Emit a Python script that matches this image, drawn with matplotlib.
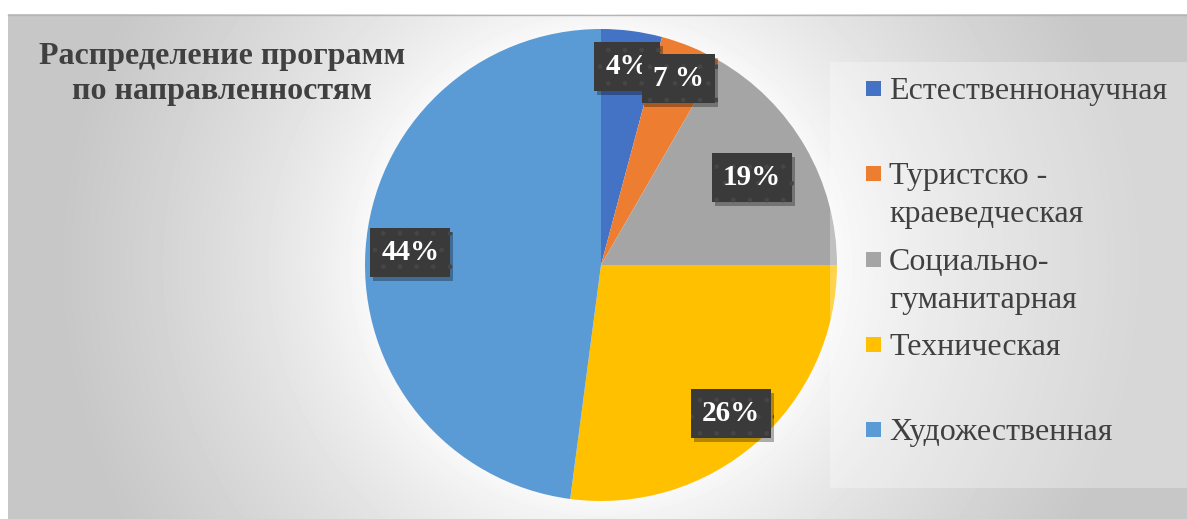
import numpy as np
import matplotlib.pyplot as plt
from matplotlib.patches import Rectangle
from matplotlib.lines import Line2D
import matplotlib.patheffects as pe

plt.rcParams['font.family'] = ['Liberation Serif', 'DejaVu Serif']

# -------------------------
# data
# -------------------------
categories = ['Естественнонаучная', 'Туристско -\nкраеведческая',
              'Социально-\nгуманитарная', 'Техническая', 'Художественная']
counts = [2, 2, 8, 13, 23]
labels = ['4%', '7 %', '19%', '26%', '44%']
colors = ['#4472C4', '#ED7D31', '#A5A5A5', '#FFC000', '#5B9BD5']
title = 'Распределение программ\nпо направленностям'

W, H = 1187, 519
fig = plt.figure(figsize=(W / 100, H / 100), dpi=100)
fig.patch.set_facecolor('white')

# -------------------------
# radial gradient background
# -------------------------
bg = fig.add_axes([8 / W, 0, 1 - 8 / W, (H - 14) / H])
xs = np.arange(8, W) + 0.5
ys = np.arange(14, H) + 0.5
X, Y = np.meshgrid(xs, ys)
d = np.hypot(X - 601, Y - 265)
v = 1 - 0.22 * np.clip((d - 220) / 320, 0, 1) ** 0.7
bg.imshow(v, cmap='gray', vmin=0, vmax=1, aspect='auto', interpolation='bilinear')
bg.axis('off')
fig.add_artist(Line2D([8 / W, 1], [(H - 14.5) / H] * 2, transform=fig.transFigure,
                      color='#b5b5b5', lw=1))

# -------------------------
# pie
# -------------------------
R = 236
ax = fig.add_axes([(601 - R) / W, (H - 265 - R) / H, 2 * R / W, 2 * R / H])
wedges, _ = ax.pie(counts, colors=colors, startangle=90, counterclock=False, radius=1)
ax.set_xlim(-1, 1)
ax.set_ylim(-1, 1)

dist = [0.85, 0.855, 0.74, 0.835, 0.81]
for w, lab, r in zip(wedges, labels, dist):
    th = np.deg2rad((w.theta1 + w.theta2) / 2)
    t = ax.text(r * np.cos(th), r * np.sin(th), lab, ha='center', va='center',
                color='white', fontsize=21, fontweight='bold',
                bbox=dict(boxstyle='square,pad=0.38', fc='#3a3a3a', ec='#464646',
                          lw=0, hatch='.'))
    t.get_bbox_patch().set_path_effects([
        pe.SimplePatchShadow(offset=(2, -3), shadow_rgbFace='black', alpha=0.3),
        pe.Normal()])

# -------------------------
# title (one text per line)
# -------------------------
for j, line in enumerate(title.split('\n')):
    fig.text(222 / W, (H - 64 - j * 35) / H, line, ha='center', va='baseline',
             fontsize=23, fontweight='bold', color='#404040')

# -------------------------
# legend
# -------------------------
fig.add_artist(Rectangle((830 / W, (H - 488) / H), (W - 830) / W, (488 - 62) / H,
                         transform=fig.transFigure, fc='white', alpha=0.3,
                         ec='none', zorder=5))
for i, (cat, col) in enumerate(zip(categories, colors)):
    yc = 89 + i * 85.3
    fig.add_artist(Rectangle((866 / W, (H - yc - 7) / H), 15 / W, 15 / H,
                             transform=fig.transFigure, fc=col, ec='none', zorder=6))
    for j, line in enumerate(cat.split('\n')):
        fig.text(889 / W, (H - yc - 10 - j * 38) / H, line, ha='left', va='baseline',
                 fontsize=23, color='#404040', zorder=6)

fig.savefig('out.png', dpi=100)
